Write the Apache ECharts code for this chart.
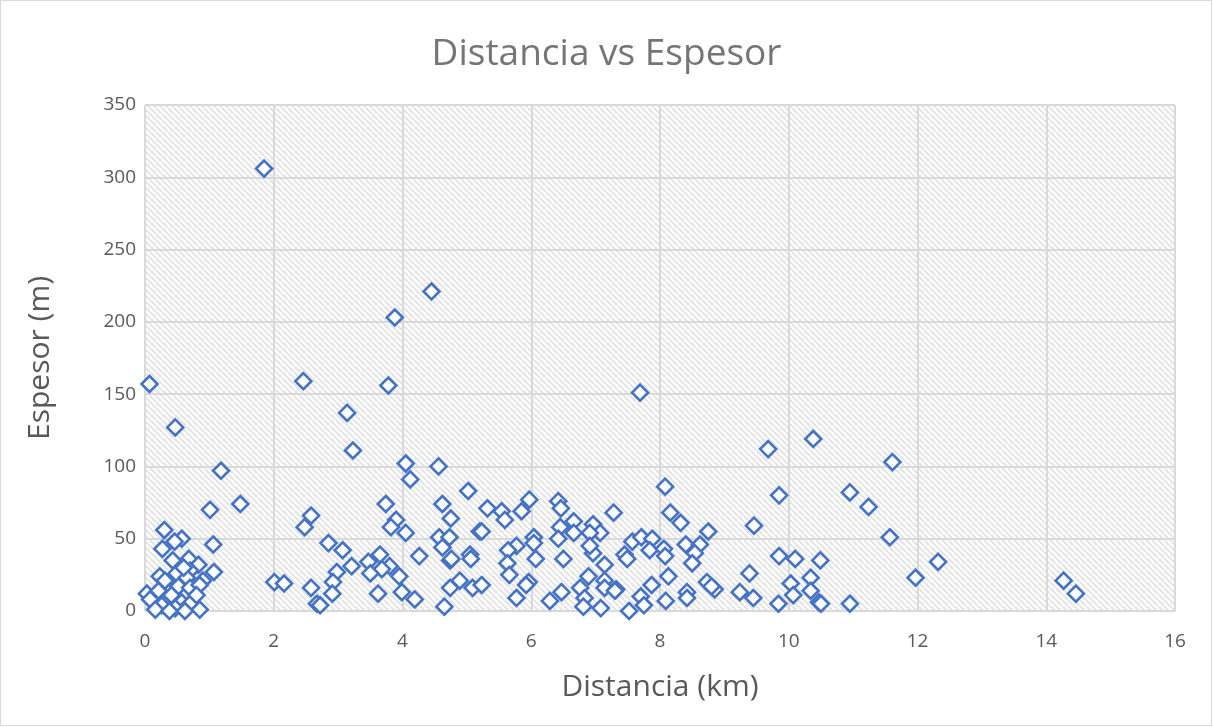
<!DOCTYPE html>
<html>
<head>
<meta charset="utf-8">
<title>Distancia vs Espesor</title>
<script src="https://cdn.jsdelivr.net/npm/echarts@6/dist/echarts.min.js"></script>
<style>
  html, body { margin: 0; padding: 0; background: #ffffff; }
  #chart { width: 1213px; height: 727px; }
</style>
</head>
<body>
<div id="chart"></div>
<script>
// Distance from source (km)
const distancia = [
  0.07, 0.47, 1.18, 1.01, 1.48, 0.30, 0.57, 0.46, 0.27, 1.06, 0.43, 0.68, 0.83, 1.07, 0.49, 0.70,
  0.23, 0.65, 0.90, 0.34, 0.52, 0.70, 0.85, 0.03, 0.21, 0.08, 0.26, 0.41, 0.57, 0.70, 0.80, 0.47,
  0.85, 0.16, 0.62, 0.38, 0.31, 0.60,
  1.85, 2.46, 3.14, 3.23, 2.01, 2.16, 2.48, 2.58, 2.58, 2.85, 2.98, 2.92, 2.91, 3.07, 3.21, 2.67, 2.72,
  3.88, 3.78, 4.45, 4.05, 4.12, 4.56, 3.74, 4.62, 3.90, 3.82, 4.05, 4.57, 4.73, 4.62, 4.75, 4.26,
  4.74, 3.65, 3.47, 3.80, 3.68, 3.95, 3.50, 3.62, 3.99, 4.19, 4.89, 4.74, 4.65, 4.76,
  5.02, 5.20, 5.05, 5.06, 5.09, 5.97, 5.85, 5.32, 5.54, 5.59, 5.23, 6.04, 6.04, 5.77, 5.64, 6.07,
  5.63, 5.66, 5.23, 5.96, 5.92, 5.77, 6.29,
  6.42, 6.46, 6.45, 6.66, 6.66, 6.42, 6.96, 7.07, 6.91, 6.96, 6.91, 7.28, 7.45, 6.50, 7.14, 6.89,
  7.14, 7.14, 7.32, 6.76, 6.83, 6.47, 6.81, 7.08, 7.49, 7.30,
  7.69, 8.08, 8.16, 8.32, 8.75, 7.57, 7.71, 7.88, 7.84, 8.06, 8.08, 8.40, 8.62, 8.54, 8.50, 8.13,
  7.87, 8.73, 8.85, 8.80, 8.42, 8.42, 7.70, 7.75, 8.09, 7.52,
  9.68, 10.38, 11.61, 9.85, 10.95, 11.24, 11.57, 9.46, 9.85, 10.10, 10.49, 9.39, 11.97, 12.32,
  10.03, 10.34, 10.34, 10.07, 10.47, 10.50, 9.24, 9.45, 9.84, 10.95, 14.27, 14.46
];

// Thickness (m)
const espesor = [
  157, 127, 97, 70, 74, 56, 50, 48, 43, 46, 35, 36, 32, 27, 26, 28,
  24, 23, 21, 18, 17, 16, 18, 12, 14, 8, 4, 11, 6, 5, 11, 2,
  1, 1, 0, 0, 21, 30,
  306, 159, 137, 111, 20, 19, 58, 66, 16, 47, 27, 20, 12, 42, 31, 5, 4,
  203, 156, 221, 102, 91, 100, 74, 74, 63, 58, 54, 51, 51, 44, 64, 38,
  35, 39, 34, 31, 29, 24, 26, 12, 13, 8, 21, 16, 3, 36,
  83, 55, 39, 36, 16, 77, 69, 71, 69, 63, 55, 51, 47, 45, 42, 36,
  33, 25, 18, 20, 18, 9, 7,
  76, 71, 58, 62, 54, 50, 60, 54, 54, 40, 45, 68, 39, 36, 32, 24,
  21, 16, 15, 16, 9, 13, 3, 2, 36, 14,
  151, 86, 68, 61, 55, 48, 51, 50, 42, 43, 38, 46, 46, 40, 33, 24,
  18, 20, 15, 17, 13, 9, 10, 4, 7, 0,
  112, 119, 103, 80, 82, 72, 51, 59, 38, 36, 35, 26, 23, 34,
  19, 23, 14, 11, 6, 5, 13, 9, 5, 5, 21, 12
];

const xTicks = { min: 0, max: 16, interval: 2 };
const yTicks = { min: 0, max: 350, interval: 50 };

const points = distancia.map((d, i) => [d, espesor[i]]);

// Diagonal hatch tile for the plot area
function hatchTile() {
  const s = 6;
  const c = document.createElement('canvas');
  c.width = s; c.height = s;
  const g = c.getContext('2d');
  g.fillStyle = '#ffffff';
  g.fillRect(0, 0, s, s);
  g.strokeStyle = '#e4e4e4';
  g.lineWidth = 2;
  g.beginPath();
  for (let k = -1; k <= 1; k++) {
    g.moveTo(k * s, 0);
    g.lineTo(k * s + s, s);
  }
  g.stroke();
  return c;
}

const chart = echarts.init(document.getElementById('chart'), null, { renderer: 'canvas' });
const textColor = '#595959';
const font = '"Open Sans", "Liberation Sans", sans-serif';

chart.setOption({
  backgroundColor: '#ffffff',
  animation: false,
  title: {
    text: 'Distancia vs Espesor',
    left: 'center',
    top: 31,
    textStyle: { color: '#757575', fontSize: 37, fontWeight: 'normal', fontFamily: font }
  },
  grid: {
    left: 145, right: 38, top: 105, bottom: 116,
    show: true,
    backgroundColor: { image: hatchTile(), repeat: 'repeat' },
    borderWidth: 0
  },
  xAxis: {
    type: 'value',
    min: xTicks.min, max: xTicks.max, interval: xTicks.interval,
    name: 'Distancia (km)',
    nameLocation: 'middle',
    nameGap: 61,
    nameTextStyle: { color: textColor, fontSize: 30, fontFamily: font },
    axisLine: { show: false },
    axisTick: { show: false },
    axisLabel: { color: textColor, fontSize: 19, fontFamily: font, margin: 21 },
    splitLine: { show: true, lineStyle: { color: '#d9d9d9', width: 2 } }
  },
  yAxis: {
    type: 'value',
    min: yTicks.min, max: yTicks.max, interval: yTicks.interval,
    name: 'Espesor (m)',
    nameLocation: 'middle',
    nameGap: 90,
    nameTextStyle: { color: textColor, fontSize: 30, fontFamily: font },
    axisLine: { show: false },
    axisTick: { show: false },
    axisLabel: { color: textColor, fontSize: 19, fontFamily: font, margin: 9 },
    splitLine: { show: true, lineStyle: { color: '#d9d9d9', width: 2 } }
  },
  series: [{
    type: 'scatter',
    data: points,
    symbol: 'diamond',
    symbolSize: 16,
    itemStyle: { color: '#ffffff', borderColor: '#4472C4', borderWidth: 2.6, opacity: 1 }
  }],
  graphic: [{
    type: 'rect',
    shape: { x: 0.5, y: 0.5, width: 1211, height: 725 },
    style: { fill: 'none', stroke: '#d9d9d9', lineWidth: 1 },
    silent: true
  }]
});
</script>
</body>
</html>
